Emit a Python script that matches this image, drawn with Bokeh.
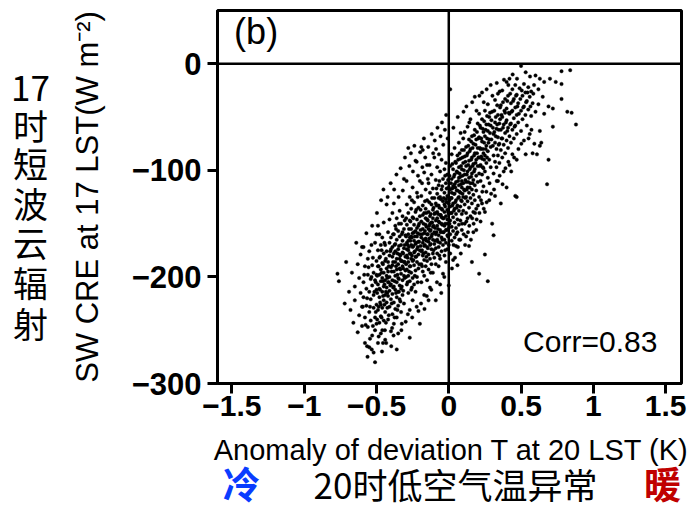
from bokeh.plotting import figure
from bokeh.models import Label, Span, FixedTicker, Range1d
from bokeh.layouts import row, column
from bokeh.core.properties import value
from bokeh.embed import file_html
from bokeh.resources import INLINE

# ---------------- data ----------------
# (anomaly of deviation T at 20 LST [K], SW CRE at 17 LST [W m-2])
points_cold = [
    (-0.77,-197),(-0.76,-204),(-0.72,-225),(-0.71,-186),
    (-0.69,-214),(-0.68,-231),(-0.67,-196),(-0.66,-243),(-0.65,-209),(-0.65,-222),(-0.64,-168),
    (-0.63,-188),(-0.63,-252),(-0.62,-201),(-0.62,-236),(-0.61,-215),(-0.61,-179),(-0.60,-228),
    (-0.60,-172),(-0.60,-246),(-0.59,-172),(-0.59,-205),(-0.59,-219),(-0.58,-190),(-0.58,-238),
    (-0.58,-262),(-0.57,-159),(-0.57,-211),(-0.57,-227),(-0.56,-198),(-0.56,-247),(-0.56,-183),
    (-0.55,-214),(-0.55,-233),(-0.55,-266),(-0.55,-176),(-0.54,-202),(-0.54,-221),(-0.54,-241),
    (-0.53,-152),(-0.53,-189),(-0.53,-208),(-0.53,-255),(-0.52,-196),(-0.52,-229),(-0.52,-217),
    (-0.52,-271),(-0.51,-168),(-0.51,-203),(-0.51,-238),(-0.51,-250),(-0.51,-280),(-0.50,-185),
    (-0.50,-212),(-0.50,-226),(-0.50,-160),(-0.50,-244),(-0.50,-198),
    (-0.49,-152),(-0.49,-175),(-0.49,-207),(-0.49,-231),(-0.49,-262),(-0.49,-190),
    (-0.48,-160),(-0.48,-198),(-0.48,-219),(-0.48,-243),(-0.48,-182),(-0.48,-211),
    (-0.47,-253),(-0.47,-170),(-0.47,-204),(-0.47,-226),(-0.47,-193),(-0.47,-237),
    (-0.46,-250),(-0.46,-187),(-0.46,-214),(-0.46,-163),(-0.46,-201),(-0.46,-229),
    (-0.45,-178),(-0.45,-209),(-0.45,-222),(-0.45,-196),(-0.45,-241),(-0.45,-149),
    (-0.44,-185),(-0.44,-203),(-0.44,-217),(-0.44,-233),(-0.44,-170),(-0.44,-259),
    (-0.43,-132),(-0.43,-192),(-0.43,-210),(-0.43,-176),(-0.43,-224),(-0.43,-199),
    (-0.42,-158),(-0.42,-186),(-0.42,-205),(-0.42,-218),(-0.42,-240),(-0.42,-195),
    (-0.41,-168),(-0.41,-180),(-0.41,-200),(-0.41,-213),(-0.41,-228),(-0.41,-146),
    (-0.40,-174),(-0.40,-191),(-0.40,-207),(-0.40,-221),(-0.40,-251),(-0.40,-163),
    (-0.39,-140),(-0.39,-172),(-0.39,-189),(-0.39,-203),(-0.39,-216),(-0.39,-235),(-0.39,-181),
    (-0.38,-131),(-0.38,-160),(-0.38,-178),(-0.38,-195),(-0.38,-209),(-0.38,-224),(-0.38,-244),
    (-0.37,-152),(-0.37,-169),(-0.37,-186),(-0.37,-199),(-0.37,-212),(-0.37,-230),(-0.37,-176),
    (-0.36,-268),(-0.36,-145),(-0.36,-165),(-0.36,-183),(-0.36,-193),(-0.36,-205),(-0.36,-219),
    (-0.36,-238),(-0.35,-253),(-0.35,-157),(-0.35,-174),(-0.35,-188),(-0.35,-201),(-0.35,-214),
    (-0.35,-227),(-0.34,-138),(-0.34,-162),(-0.34,-179),(-0.34,-192),(-0.34,-208),(-0.34,-221),
    (-0.34,-183),(-0.33,-150),(-0.33,-170),(-0.33,-185),(-0.33,-197),(-0.33,-211),(-0.33,-233),
    (-0.32,-143),(-0.32,-166),(-0.32,-177),(-0.32,-190),(-0.32,-203),(-0.32,-217),(-0.32,-158),
    (-0.31,-155),(-0.31,-173),(-0.31,-186),(-0.31,-199),(-0.31,-108),(-0.31,-225),
    (-0.30,-161),(-0.30,-181),(-0.30,-194),
    (-0.29,-132),(-0.29,-151),(-0.29,-168),(-0.29,-180),(-0.29,-193),(-0.29,-207),(-0.29,-174),
    (-0.28,-79),(-0.28,-140),(-0.28,-160),(-0.28,-175),(-0.28,-186),(-0.28,-199),(-0.28,-215),
    (-0.28,-166),(-0.27,-257),(-0.27,-125),(-0.27,-147),(-0.27,-163),(-0.27,-178),(-0.27,-190),
    (-0.27,-204),(-0.27,-231),(-0.26,-136),(-0.26,-155),(-0.26,-170),(-0.26,-183),(-0.26,-196),
    (-0.26,-212),(-0.26,-162),(-0.25,-116),(-0.25,-144),(-0.25,-159),(-0.25,-172),(-0.25,-185),
    (-0.25,-201),(-0.25,-222),(-0.24,-130),(-0.24,-151),(-0.24,-166),(-0.24,-177),(-0.24,-189),
    (-0.24,-207),(-0.24,-158),(-0.23,-91),(-0.23,-139),(-0.23,-157),(-0.23,-169),(-0.23,-181),
    (-0.23,-194),(-0.23,-214),(-0.22,-121),(-0.22,-146),(-0.22,-162),(-0.22,-174),(-0.22,-186),
    (-0.22,-200),(-0.22,-154),(-0.21,-135),(-0.21,-152),(-0.21,-167),(-0.21,-179),(-0.21,-192),
    (-0.21,-232),(-0.20,-244),(-0.20,-110),(-0.20,-143),(-0.20,-160),(-0.20,-175),
    (-0.19,-78),(-0.19,-124),(-0.19,-148),(-0.19,-163),(-0.19,-176),(-0.19,-188),(-0.19,-205),
    (-0.18,-81),(-0.18,-133),(-0.18,-155),(-0.18,-168),(-0.18,-180),(-0.18,-195),(-0.18,-142),
    (-0.17,-102),(-0.17,-140),(-0.17,-159),(-0.17,-171),(-0.17,-184),(-0.17,-199),(-0.17,-217),
    (-0.16,-118),(-0.16,-136),(-0.16,-151),(-0.16,-164),(-0.16,-177),(-0.16,-190),(-0.16,-145),
    (-0.15,-95),(-0.15,-128),(-0.15,-146),(-0.15,-160),(-0.15,-172),(-0.15,-185),(-0.15,-203),
    (-0.14,-222),(-0.14,-112),(-0.14,-139),(-0.14,-155),(-0.14,-167),(-0.14,-179),(-0.14,-193),
    (-0.13,-121),(-0.13,-143),(-0.13,-157),(-0.13,-170),(-0.13,-183),(-0.13,-150),(-0.13,-210),
    (-0.12,-104),(-0.12,-132),(-0.12,-149),(-0.12,-162),(-0.12,-174),(-0.12,-188),
    (-0.11,-117),(-0.11,-137),(-0.11,-153),(-0.11,-165),(-0.11,-178),(-0.11,-196),(-0.11,-145),
    (-0.10,-126),(-0.10,-141),(-0.10,-158),(-0.10,-169),(-0.10,-182),(-0.10,-88),
    (-0.09,-222),(-0.09,-109),(-0.09,-131),(-0.09,-147),(-0.09,-160),(-0.09,-173),(-0.09,-188),
    (-0.08,-97),(-0.08,-122),(-0.08,-139),(-0.08,-152),(-0.08,-165),(-0.08,-178),(-0.08,-145),
    (-0.07,-114),(-0.07,-133),(-0.07,-148),(-0.07,-161),(-0.07,-172),(-0.07,-190),(-0.07,-126),
    (-0.06,-207),(-0.06,-101),(-0.06,-125),(-0.06,-142),(-0.06,-156),(-0.06,-168),(-0.06,-183),
    (-0.05,-90),(-0.05,-118),(-0.05,-136),(-0.05,-150),(-0.05,-163),(-0.05,-176),(-0.05,-144),
    (-0.04,-108),(-0.04,-129),(-0.04,-145),(-0.04,-158),(-0.04,-170),(-0.04,-197),
    (-0.03,-99),(-0.03,-121),(-0.03,-139),(-0.03,-152),(-0.03,-165),(-0.03,-180),(-0.03,-132),
    (-0.02,-112),(-0.02,-127),(-0.02,-143),(-0.02,-156),(-0.02,-168),(-0.02,-186),(-0.02,-93),
    (-0.01,-104),(-0.01,-124),(-0.01,-137),(-0.01,-150),(-0.01,-161),(-0.01,-174),(-0.01,-146),
]
points_cold_dense = [
    (-0.585,-198),(-0.575,-245),(-0.565,-220),(-0.555,-191),(-0.545,-228),(-0.535,-200),
    (-0.525,-246),(-0.515,-214),(-0.505,-233),(-0.595,-228),(-0.545,-258),(-0.525,-182),
    (-0.565,-265),(-0.505,-205),(-0.535,-170),
    (-0.495,-215),(-0.495,-240),(-0.485,-190),(-0.485,-228),(-0.485,-256),(-0.475,-212),
    (-0.475,-181),(-0.465,-238),(-0.465,-196),(-0.455,-218),(-0.455,-188),(-0.455,-262),
    (-0.445,-207),(-0.445,-226),(-0.435,-183),(-0.435,-243),(-0.425,-201),(-0.425,-215),
    (-0.415,-190),(-0.415,-236),(-0.405,-208),(-0.405,-176),(-0.495,-199),(-0.475,-224),
    (-0.455,-204),(-0.435,-214),(-0.415,-205),(-0.445,-168),(-0.465,-175),(-0.425,-229),
    (-0.395,-195),(-0.395,-225),(-0.385,-186),(-0.385,-210),(-0.375,-170),(-0.375,-204),
    (-0.375,-238),(-0.365,-190),(-0.365,-215),(-0.355,-178),(-0.355,-198),(-0.355,-231),
    (-0.345,-171),(-0.345,-202),(-0.345,-214),(-0.335,-180),(-0.335,-193),(-0.335,-223),
    (-0.325,-160),(-0.325,-185),(-0.325,-209),(-0.315,-178),(-0.315,-192),(-0.315,-213),
    (-0.305,-170),(-0.305,-201),(-0.305,-186),(-0.385,-160),(-0.365,-155),(-0.345,-150),
    (-0.325,-244),(-0.305,-147),
    (-0.295,-162),(-0.295,-188),(-0.295,-200),(-0.285,-170),(-0.285,-182),(-0.285,-205),
    (-0.275,-155),(-0.275,-172),(-0.275,-195),(-0.265,-166),(-0.265,-178),(-0.265,-190),
    (-0.265,-148),(-0.255,-163),(-0.255,-180),(-0.255,-210),(-0.245,-171),(-0.245,-184),
    (-0.245,-145),(-0.235,-162),(-0.235,-176),(-0.235,-199),(-0.225,-168),(-0.225,-181),
    (-0.225,-137),(-0.215,-159),(-0.215,-172),(-0.215,-205),(-0.205,-150),(-0.205,-167),
    (-0.205,-188),(-0.295,-145),(-0.255,-128),(-0.215,-125),
    (-0.195,-156),(-0.195,-171),(-0.195,-137),(-0.185,-160),(-0.185,-175),(-0.185,-190),
    (-0.175,-150),(-0.175,-165),(-0.175,-178),(-0.165,-129),(-0.165,-157),(-0.165,-170),
    (-0.155,-140),(-0.155,-153),(-0.155,-166),(-0.155,-181),(-0.145,-147),(-0.145,-160),
    (-0.145,-173),(-0.135,-130),(-0.135,-152),(-0.135,-164),(-0.125,-141),(-0.125,-156),
    (-0.125,-169),(-0.115,-126),(-0.115,-149),(-0.115,-160),(-0.105,-135),(-0.105,-152),
    (-0.105,-175),(-0.185,-112),(-0.145,-108),(-0.125,-196),
    (-0.095,-140),(-0.095,-154),(-0.095,-166),(-0.085,-117),(-0.085,-133),(-0.085,-158),
    (-0.075,-141),(-0.075,-155),(-0.075,-167),(-0.065,-110),(-0.065,-135),(-0.065,-149),
    (-0.055,-127),(-0.055,-142),(-0.055,-158),(-0.045,-115),(-0.045,-137),(-0.045,-151),
    (-0.045,-165),(-0.035,-126),(-0.035,-145),(-0.035,-158),(-0.025,-105),(-0.025,-134),
    (-0.025,-150),(-0.015,-117),(-0.015,-130),(-0.015,-156),(-0.005,-109),(-0.005,-125),
    (-0.005,-139),(-0.005,-162),(-0.065,-180),(-0.025,-175),
]
points_cold_edge = [
    (-0.497,-140),(-0.468,-128),(-0.452,-118),(-0.423,-125),(-0.402,-112),(-0.378,-118),
    (-0.362,-104),(-0.347,-125),(-0.333,-98),(-0.318,-119),(-0.303,-88),(-0.292,-110),
    (-0.273,-96),(-0.262,-84),(-0.248,-101),(-0.238,-77),(-0.222,-92),(-0.213,-105),
    (-0.198,-83),(-0.183,-97),(-0.172,-70),(-0.163,-88),(-0.142,-78),(-0.133,-95),
    (-0.118,-66),(-0.108,-84),(-0.097,-72),(-0.088,-80),(-0.078,-60),(-0.068,-85),
    (-0.057,-68),(-0.047,-55),(-0.038,-76),(-0.027,-62),(-0.018,-48),(-0.008,-70),
    (-0.462,-270),(-0.433,-262),(-0.398,-265),(-0.382,-255),(-0.328,-250),(-0.298,-242),
    (-0.283,-235),(-0.253,-238),(-0.222,-228),(-0.192,-225),(-0.168,-230),(-0.152,-218),
    (-0.121,-212),(-0.082,-205),(-0.052,-215),(-0.031,-200),(-0.562,-275),(-0.533,-268),
    (-0.442,-250),(-0.392,-248),
]
points_warm = [
    (0.00,-116),(0.00,-131),(0.00,-141),(0.00,-154),(0.00,-170),(0.00,-208),
    (0.01,-24),(0.01,-96),(0.01,-118),(0.01,-134),(0.01,-147),(0.01,-160),(0.01,-178),
    (0.02,-85),(0.02,-108),(0.02,-126),(0.02,-140),(0.02,-153),(0.02,-166),(0.02,-121),
    (0.03,-99),(0.03,-115),(0.03,-131),(0.03,-144),(0.03,-157),(0.03,-184),
    (0.04,-79),(0.04,-104),(0.04,-122),(0.04,-136),(0.04,-149),(0.04,-163),(0.04,-113),
    (0.05,-93),(0.05,-111),(0.05,-128),(0.05,-141),(0.05,-154),(0.05,-171),
    (0.06,-189),(0.06,-86),(0.06,-102),(0.06,-119),(0.06,-133),(0.06,-146),(0.06,-158),
    (0.07,-74),(0.07,-97),(0.07,-114),(0.07,-125),(0.07,-138),(0.07,-151),(0.07,-107),
    (0.08,-89),(0.08,-106),(0.08,-121),(0.08,-134),(0.08,-147),(0.08,-165),
    (0.09,-81),(0.09,-99),(0.09,-116),(0.09,-129),(0.09,-141),(0.09,-156),(0.09,-110),
    (0.10,-70),(0.10,-93),(0.10,-112),(0.10,-125),(0.10,-138),
    (0.11,-64),(0.11,-87),(0.11,-104),(0.11,-119),(0.11,-132),(0.11,-150),
    (0.12,-78),(0.12,-96),(0.12,-111),(0.12,-125),(0.12,-140),(0.12,-162),
    (0.13,-59),(0.13,-84),(0.13,-101),(0.13,-116),(0.13,-129),(0.13,-145),
    (0.14,-71),(0.14,-91),(0.14,-107),(0.14,-121),(0.14,-135),(0.14,-171),
    (0.15,-52),(0.15,-80),(0.15,-97),(0.15,-112),(0.15,-126),(0.15,-143),
    (0.16,-186),(0.16,-68),(0.16,-88),(0.16,-103),(0.16,-118),(0.16,-131),
    (0.17,-75),(0.17,-94),(0.17,-109),(0.17,-123),(0.17,-139),(0.17,-158),
    (0.18,-31),(0.18,-62),(0.18,-84),(0.18,-99),(0.18,-114),(0.18,-128),
    (0.19,-156),(0.19,-71),(0.19,-90),(0.19,-105),(0.19,-119),(0.19,-136),
    (0.20,-56),(0.20,-79),(0.20,-96),(0.20,-111),
    (0.21,-197),(0.21,-47),(0.21,-69),(0.21,-88),(0.21,-103),(0.21,-125),
    (0.22,-60),(0.22,-80),(0.22,-95),(0.22,-110),(0.22,-148),
    (0.23,-27),(0.23,-52),(0.23,-73),(0.23,-89),(0.23,-104),(0.23,-131),
    (0.24,-64),(0.24,-84),(0.24,-98),(0.24,-115),
    (0.25,-179),(0.25,-44),(0.25,-68),(0.25,-86),(0.25,-101),(0.25,-139),
    (0.26,-57),(0.26,-77),(0.26,-93),(0.26,-120),
    (0.27,-204),(0.27,-38),(0.27,-63),(0.27,-82),(0.27,-107),
    (0.28,-50),(0.28,-71),(0.28,-90),(0.28,-128),
    (0.29,-20),(0.29,-58),(0.29,-78),(0.29,-97),
    (0.30,-150),(0.30,-45),
    (0.31,-161),(0.31,-66),(0.31,-86),(0.31,-103),
    (0.32,-34),(0.32,-55),(0.32,-74),(0.32,-92),(0.32,-124),
    (0.33,-61),(0.33,-80),(0.33,-97),
    (0.34,-28),(0.34,-48),(0.34,-69),(0.34,-86),(0.34,-110),
    (0.35,-56),(0.35,-75),(0.35,-93),
    (0.36,-39),(0.36,-62),(0.36,-81),(0.36,-131),
    (0.37,-25),(0.37,-50),(0.37,-70),(0.37,-88),
    (0.38,-57),(0.38,-76),(0.38,-101),
    (0.39,-33),(0.39,-46),(0.39,-65),(0.39,-84),
    (0.40,-17),(0.40,-116),(0.40,-53),(0.40,-72),(0.40,-42),
    (0.41,-60),(0.41,-79),(0.41,-30),
    (0.42,-14),(0.42,-47),(0.42,-68),(0.42,-95),
    (0.43,-37),(0.43,-56),(0.43,-74),
    (0.44,-24),(0.44,-44),(0.44,-62),(0.44,-85),
    (0.45,-33),(0.45,-51),(0.45,-70),
    (0.46,-124),(0.46,-20),(0.46,-41),(0.46,-58),
    (0.47,-125),(0.47,-29),(0.47,-48),(0.47,-66),(0.47,-90),
    (0.48,-37),(0.48,-55),(0.49,-23),(0.50,-2),
    (0.50,-44),(0.50,-63),(0.51,-30),(0.51,-52),(0.52,-19),(0.52,-40),(0.52,-72),
    (0.53,-27),(0.53,-48),(0.54,-35),(0.54,-58),(0.55,-22),(0.55,-43),(0.56,-31),(0.56,-66),
    (0.57,-26),(0.57,-49),(0.58,-37),(0.59,-20),(0.60,-11),(0.60,-45),(0.58,-84),
    (0.61,-85),(0.62,-24),(0.62,-38),(0.63,-14),(0.63,-63),(0.63,-77),(0.64,-74),(0.65,-31),
    (0.66,-17),(0.66,-47),(0.68,-113),(0.69,-90),(0.69,-40),(0.70,-14),
    (0.72,-42),(0.72,-59),(0.74,-17),(0.78,-7),(0.78,-19),(0.78,-33),(0.82,-45),(0.84,-6),
    (0.85,-46),(0.88,-57),
]
points_warm_dense = [
    (0.005,-105),(0.005,-128),(0.005,-150),(0.015,-112),(0.015,-126),(0.015,-140),
    (0.025,-94),(0.025,-117),(0.025,-133),(0.035,-106),(0.035,-122),(0.035,-138),
    (0.045,-92),(0.045,-116),(0.045,-130),(0.055,-101),(0.055,-119),(0.055,-135),
    (0.065,-90),(0.065,-110),(0.065,-126),(0.075,-84),(0.075,-103),(0.075,-120),
    (0.085,-96),(0.085,-113),(0.085,-128),(0.095,-88),(0.095,-105),(0.095,-122),
    (0.105,-81),(0.105,-100),(0.105,-118),(0.115,-92),(0.115,-109),(0.115,-126),
    (0.125,-86),(0.125,-104),(0.125,-118),(0.135,-77),(0.135,-95),(0.135,-111),
    (0.145,-82),(0.145,-99),(0.145,-116),(0.155,-73),(0.155,-90),(0.155,-106),
    (0.165,-79),(0.165,-96),(0.165,-112),(0.175,-67),(0.175,-86),(0.175,-101),
    (0.185,-76),(0.185,-93),(0.195,-64),(0.195,-84),
    (0.205,-70),(0.205,-88),(0.215,-58),(0.215,-79),(0.215,-96),(0.225,-70),(0.225,-87),
    (0.235,-61),(0.235,-80),(0.235,-97),(0.245,-54),(0.245,-74),(0.245,-90),(0.255,-62),
    (0.255,-80),(0.265,-49),(0.265,-70),(0.265,-88),(0.275,-57),(0.275,-74),(0.285,-46),
    (0.285,-65),(0.295,-53),(0.295,-71),
    (0.305,-60),(0.305,-77),(0.315,-44),(0.315,-64),(0.325,-50),(0.325,-68),(0.335,-39),
    (0.335,-57),(0.345,-62),(0.345,-76),(0.355,-41),(0.355,-52),(0.365,-48),(0.365,-70),
    (0.375,-36),(0.375,-60),(0.385,-44),(0.395,-55),
    (0.405,-35),(0.405,-63),(0.415,-46),(0.425,-28),(0.425,-57),(0.435,-45),(0.445,-35),
    (0.455,-59),(0.465,-30),(0.475,-40),(0.485,-47),(0.495,-33),
    (0.505,-25),(0.515,-41),(0.535,-36),(0.545,-27),(0.565,-40),(0.585,-28),
]
points_warm_edge = [
    (0.022,-192),(0.033,-170),(0.043,-182),(0.052,-160),(0.063,-172),(0.072,-165),
    (0.083,-178),(0.092,-150),(0.103,-160),(0.113,-170),(0.122,-148),(0.133,-158),
    (0.142,-152),(0.153,-165),(0.162,-145),(0.172,-150),(0.182,-140),(0.193,-146),
    (0.202,-133),(0.212,-140),(0.223,-128),(0.232,-120),(0.242,-136),(0.262,-130),
    (0.282,-112),(0.293,-122),(0.313,-118),(0.332,-110),(0.352,-105),(0.372,-113),
    (0.392,-98),(0.412,-92),(0.432,-101),(0.452,-88),(0.482,-80),(0.502,-75),
    (0.532,-85),(0.552,-70),(0.572,-62),(0.592,-75),
    (0.032,-60),(0.062,-50),(0.082,-65),(0.102,-45),(0.122,-40),(0.142,-55),
    (0.162,-36),(0.192,-44),(0.212,-30),(0.242,-36),(0.262,-24),(0.302,-30),
    (0.332,-18),(0.352,-26),(0.382,-15),(0.412,-20),(0.442,-10),(0.472,-14),
    (0.532,-8),(0.562,-12),
]
corr_value = 0.83

x_ticks = [-1.5, -1, -0.5, 0, 0.5, 1, 1.5]
x_tick_labels = ["\u22121.5", "\u22121", "\u22120.5", "0", "0.5", "1", "1.5"]
y_ticks = [0, -100, -200, -300]
y_tick_labels = ["0", "\u2212100", "\u2212200", "\u2212300"]

panel_tag = "(b)"
x_title = "Anomaly of deviation T at 20 LST (K)"
y_title = "SW CRE at 17 LST(W m\u207b\u00b2)"
left_cn = ["17", "时", "短", "波", "云", "辐", "射"]
bottom_cn = "20时低空气温异常"
cold_word = "冷"
warm_word = "暖"

# ---------------- layout constants (pixels) ----------------
LEFT_W, TOP_H, TOTAL_W, BOTTOM_H = 62, 433, 687, 77
left_pos_y = [90, 132, 177, 223, 268, 315, 362]

all_pts = (points_cold + points_cold_dense + points_cold_edge +
           points_warm + points_warm_dense + points_warm_edge)
xs = [pt[0] for pt in all_pts]
ys = [pt[1] for pt in all_pts]

# ---------------- main scatter figure ----------------
p = figure(width=TOTAL_W - LEFT_W, height=TOP_H, x_range=Range1d(-1.6, 1.61), y_range=Range1d(-300, 50),
           output_backend="svg", toolbar_location=None,
           min_border_left=217 - LEFT_W, min_border_right=6, min_border_top=10, min_border_bottom=TOP_H - 383)
p.grid.visible = False
p.outline_line_color = "black"
p.outline_line_width = 3
p.background_fill_color = "white"
p.border_fill_color = "white"

p.scatter(xs, ys, marker="circle", size=3.5, fill_color="black", line_color="black", line_width=0.4)

p.add_layout(Span(location=0, dimension="height", line_color="black", line_width=2.5))
p.add_layout(Span(location=0, dimension="width", line_color="black", line_width=2.5))

for ax in (p.xaxis[0], p.yaxis[0]):
    ax.axis_line_width = 3
    ax.major_tick_line_width = 3
    ax.major_tick_out = 10
    ax.major_tick_in = 0
    ax.minor_tick_out = 0
    ax.minor_tick_in = 0
    ax.major_label_text_font = "Liberation Sans"
    ax.major_label_text_font_style = "bold"
    ax.major_label_text_color = "black"
    ax.axis_label_text_font = "Liberation Sans"
    ax.axis_label_text_font_style = "normal"
    ax.axis_label_text_color = "black"

p.xaxis.ticker = FixedTicker(ticks=x_ticks)
p.xaxis.major_label_overrides = {t: s for t, s in zip(x_ticks, x_tick_labels)}
p.xaxis.major_label_text_font_size = "30px"
p.xaxis.major_label_standoff = 2

p.yaxis.ticker = FixedTicker(ticks=y_ticks)
p.yaxis.major_label_overrides = {t: s for t, s in zip(y_ticks, y_tick_labels)}
p.yaxis.major_label_text_font_size = "31px"
p.yaxis.major_label_standoff = 6
p.yaxis.axis_label = y_title
p.yaxis.axis_label_text_font_size = "31px"
p.yaxis.axis_label_standoff = 24

p.add_layout(Label(x=-1.485, y=50, text=panel_tag, text_font="Liberation Sans",
                   text_font_size="36px", text_baseline="top", text_align="left", text_color="black"))
p.add_layout(Label(x=1.443, y=-261, text="Corr=%.2f" % corr_value, text_font="Liberation Sans",
                   text_font_size="30px", text_baseline="alphabetic", text_align="right",
                   text_color="black"))

# ---------------- left Chinese column ----------------
left = figure(width=LEFT_W, height=TOP_H, x_range=Range1d(0, LEFT_W), y_range=Range1d(TOP_H, 0),
              output_backend="svg", toolbar_location=None, min_border=0,
              x_axis_type=None, y_axis_type=None)
left.grid.visible = False
left.outline_line_color = None
left.text(x=[30] * len(left_cn), y=left_pos_y, text=left_cn, text_font=value("Noto Sans CJK SC"),
          text_font_size="35px", text_align="center", text_baseline="middle", text_color="black")

# ---------------- bottom strip: x title and Chinese caption ----------------
bottom = figure(width=TOTAL_W, height=BOTTOM_H, x_range=Range1d(0, TOTAL_W), y_range=Range1d(BOTTOM_H, 0),
                output_backend="svg", toolbar_location=None, min_border=0,
                x_axis_type=None, y_axis_type=None)
bottom.grid.visible = False
bottom.outline_line_color = None
bottom.text(x=[451], y=[16], text=[x_title], text_font=value("Liberation Sans"),
            text_font_size="29px", text_align="center", text_baseline="middle", text_color="black")
bottom.text(x=[455], y=[50], text=[bottom_cn], text_font=value("Noto Sans CJK SC"),
            text_font_size="35px", text_align="center", text_baseline="middle", text_color="black")
bottom.text(x=[241], y=[49], text=[cold_word], text_font=value("Noto Sans CJK SC"),
            text_font_size="37px", text_font_style="bold", text_align="center",
            text_baseline="middle", text_color="#0a3cff")
bottom.text(x=[662], y=[49], text=[warm_word], text_font=value("Noto Sans CJK SC"),
            text_font_size="37px", text_font_style="bold", text_align="center",
            text_baseline="middle", text_color="#c00000")

layout = column(row(left, p), bottom)
open("out.html", "w").write(file_html(layout, INLINE))
